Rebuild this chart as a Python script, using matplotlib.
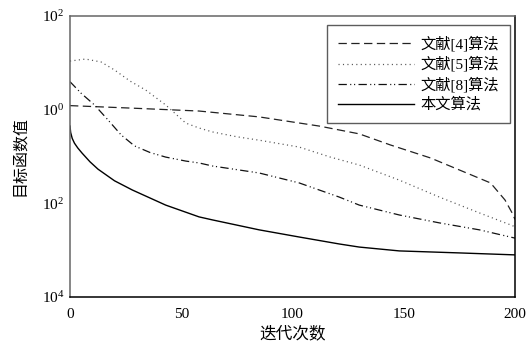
import matplotlib
matplotlib.use("Agg")
import matplotlib.pyplot as plt

plt.rcParams["font.family"] = ["Liberation Serif", "Noto Sans CJK SC"]
plt.rcParams["mathtext.fontset"] = "custom"
plt.rcParams["mathtext.rm"] = "Liberation Serif"
plt.rcParams["mathtext.it"] = "Liberation Serif:italic"
plt.rcParams["lines.scale_dashes"] = False

# objective value vs. iteration for each algorithm
iter_ref4 = [0, 30, 58, 85, 112, 130, 144, 162, 175, 189, 195.5, 198.7, 200]
obj_ref4 = [1.20, 1.05, 0.92, 0.69, 0.44, 0.30, 0.174, 0.092, 0.051, 0.027,
            0.0117, 0.0062, 0.0045]

iter_ref5 = [0, 7, 14, 20, 27, 34, 43, 52, 58, 64, 75, 85, 103, 117, 130,
             148, 166, 184, 199, 200]
obj_ref5 = [10.7, 11.8, 10.2, 6.9, 4.0, 2.58, 1.24, 0.51, 0.40, 0.33, 0.26,
            0.22, 0.157, 0.096, 0.065, 0.031, 0.0135, 0.0062, 0.0033, 0.0030]

iter_ref8 = [0, 5, 11, 17, 23, 29, 36, 43, 52, 58, 64, 85, 103, 121, 130,
             148, 166, 184, 200]
obj_ref8 = [3.88, 2.2, 1.24, 0.60, 0.284, 0.166, 0.12, 0.096, 0.079, 0.072,
            0.062, 0.044, 0.027, 0.0135, 0.0091, 0.0056, 0.0038, 0.0027,
            0.0018]

iter_ours = [0, 0.3, 1, 2, 3.5, 5.4, 9, 12.6, 20, 28, 43, 58, 64, 85, 103,
             121, 130, 148, 175, 200]
obj_ours = [0.44, 0.32, 0.24, 0.19, 0.150, 0.117, 0.076, 0.053, 0.030,
            0.0191, 0.0091, 0.0051, 0.0044, 0.0027, 0.0019, 0.00135,
            0.00116, 0.00096, 0.00087, 0.00079]

labels = ["文献[4]算法", "文献[5]算法", "文献[8]算法", "本文算法"]
x_ticks = [0, 50, 100, 150, 200]
y_ticks = [1e2, 1e0, 1e-2, 1e-4]
y_tick_labels = [r"$\mathregular{10^{2}}$", r"$\mathregular{10^{0}}$",
                 r"$\mathregular{10^{2}}$", r"$\mathregular{10^{4}}$"]

fig = plt.figure(figsize=(5.29, 3.47), dpi=100)
ax = fig.add_axes([70 / 529, 1 - 297 / 347, 445 / 529, 281.5 / 347])

lw = 0.9
ax.plot(iter_ref4, obj_ref4, color="#222222", lw=lw, dashes=(6, 3.2),
        label=labels[0])
ax.plot(iter_ref5, obj_ref5, color="#555555", lw=lw, dashes=(0.8, 2.4),
        label=labels[1])
ax.plot(iter_ref8, obj_ref8, color="#111111", lw=lw,
        dashes=(6, 2.4, 0.8, 2.0, 0.8, 2.4), label=labels[2])
ax.plot(iter_ours, obj_ours, color="black", lw=1.0, label=labels[3])

ax.set_yscale("log")
ax.set_xlim(0, 200)
ax.set_ylim(1e-4, 1e2)
ax.set_xticks(x_ticks)
ax.set_xticklabels([str(v) for v in x_ticks])
ax.set_yticks(y_ticks)
ax.set_yticklabels(y_tick_labels)
ax.minorticks_off()
ax.tick_params(axis="both", length=0, labelsize=11)
ax.tick_params(axis="x", pad=8)
ax.tick_params(axis="y", pad=4)

for side in ("left", "top"):
    ax.spines[side].set_color("#666666")
for side in ("bottom", "right"):
    ax.spines[side].set_color("black")
for sp in ax.spines.values():
    sp.set_linewidth(1.1)

ax.set_xlabel("迭代次数", fontsize=12, labelpad=3,
              family=["Noto Sans CJK SC", "Liberation Serif"])
ax.set_ylabel("目标函数值", fontsize=11.5, labelpad=10,
              family=["Noto Sans CJK SC", "Liberation Serif"])

leg = ax.legend(loc="upper right", bbox_to_anchor=(0.989, 0.966),
                borderaxespad=0, frameon=True, fancybox=False,
                handlelength=5.0, handletextpad=0.45, labelspacing=0.32,
                borderpad=0.7,
                prop={"family": ["Liberation Serif", "Noto Sans CJK SC"],
                      "size": 11})
leg.get_frame().set_edgecolor("#333333")
leg.get_frame().set_linewidth(1.0)

fig.savefig("out.png", dpi=100)
